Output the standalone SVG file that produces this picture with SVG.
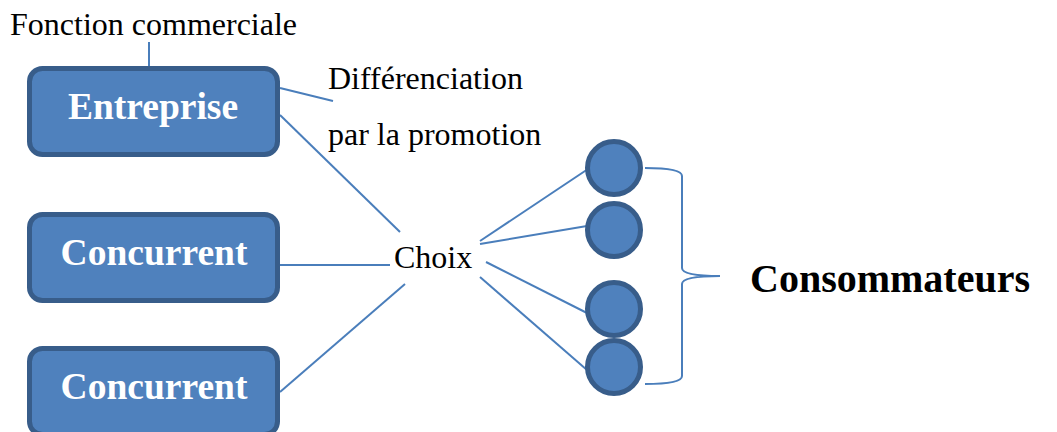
<svg xmlns="http://www.w3.org/2000/svg" width="1057" height="432" viewBox="0 0 1057 432">
<style>
.box{fill:#4F81BD;stroke:#385D8A;stroke-width:5}
.bt{font-family:"Liberation Serif",serif;font-weight:bold;font-size:37.5px;fill:#fff;text-anchor:middle}
.t{font-family:"Liberation Serif",serif;font-size:32px;fill:#000}
.ln{stroke:#4A7EBB;stroke-width:2;fill:none}
.c{fill:#4F81BD;stroke:#385D8A;stroke-width:5}
</style>
<rect width="1057" height="432" fill="#fff"/>
<g id="connectors">
<line class="ln" x1="149" y1="42" x2="149" y2="68"/>
<line class="ln" x1="280" y1="88" x2="333" y2="101"/>
<line class="ln" x1="280" y1="115" x2="400" y2="232"/>
<line class="ln" x1="280" y1="265" x2="390" y2="265"/>
<line class="ln" x1="280" y1="392" x2="405" y2="284"/>
<line class="ln" x1="480" y1="241" x2="588" y2="169"/>
<line class="ln" x1="480" y1="244" x2="587" y2="226"/>
<line class="ln" x1="486" y1="262" x2="587" y2="313"/>
<line class="ln" x1="480" y1="277" x2="587" y2="370"/>
<path class="ln" d="M645 168 Q682 168 682 176 L682 268 Q682 276 720 276 Q682 276 682 284 L682 376 Q682 384 645 384"/>
</g>
<g id="fonction"><text class="t" x="10" y="35">Fonction commerciale</text></g>
<g id="diff"><text class="t" x="328" y="89">Différenciation</text><text class="t" x="328" y="145">par la promotion</text></g>
<g id="choix"><text class="t" x="394" y="268">Choix</text></g>
<g id="entreprise"><rect class="box" x="29.5" y="68.5" width="248" height="86" rx="13"/><text class="bt" x="153" y="119">Entreprise</text></g>
<g id="concurrent1"><rect class="box" x="29.5" y="214.5" width="248" height="86" rx="13"/><text class="bt" x="154" y="265">Concurrent</text></g>
<g id="concurrent2"><rect class="box" x="29.5" y="348.5" width="248" height="86" rx="13"/><text class="bt" x="154" y="399">Concurrent</text></g>
<g id="c1"><circle class="c" cx="614" cy="168" r="26.5"/></g>
<g id="c2"><circle class="c" cx="614" cy="230" r="26.5"/></g>
<g id="c3"><circle class="c" cx="614" cy="309" r="26.5"/></g>
<g id="c4"><circle class="c" cx="614" cy="367" r="26.5"/></g>
<g id="consommateurs"><text x="750" y="292" style="font-family:'Liberation Serif',serif;font-weight:bold;font-size:40px;fill:#000">Consommateurs</text></g>
</svg>
